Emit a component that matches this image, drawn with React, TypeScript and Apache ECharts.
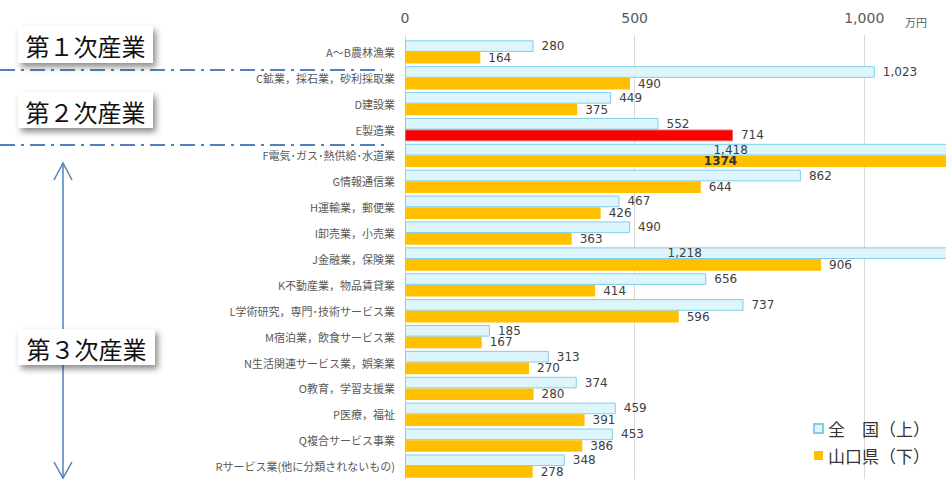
import React, { useEffect, useRef } from 'react';
import * as echarts from 'echarts';

const categories = [
  'A～B農林漁業',
  'C鉱業，採石業，砂利採取業',
  'D建設業',
  'E製造業',
  'F電気･ガス･熱供給･水道業',
  'G情報通信業',
  'H運輸業，郵便業',
  'I卸売業，小売業',
  'J金融業，保険業',
  'K不動産業，物品賃貸業',
  'L学術研究，専門･技術サービス業',
  'M宿泊業，飲食サービス業',
  'N生活関連サービス業，娯楽業',
  'O教育，学習支援業',
  'P医療，福祉',
  'Q複合サービス事業',
  'Rサービス業(他に分類されないもの)',
];
const nationalValues = [280, 1023, 449, 552, 1418, 862, 467, 490, 1218, 656, 737, 185, 313, 374, 459, 453, 348];
const yamaguchiValues = [164, 490, 375, 714, 1374, 644, 426, 363, 906, 414, 596, 167, 270, 280, 391, 386, 278];
const xTicks = [0, 500, 1000];
const seriesNames = ['全　国（上）', '山口県（下）'];
const sectionLabels = ['第１次産業', '第２次産業', '第３次産業'];
const unitLabel = '万円';
const AXIS_MAX = 1178;
const HIGHLIGHT_CATEGORY = 'E製造業';
const PLAIN_LABEL_CATEGORY = 'F電気･ガス･熱供給･水道業';

const fmt = (v: number) => v.toLocaleString('en-US');
const BLUE = '#4F81BD';

function box(text: string, x: number, y: number, w: number, h: number) {
  return {
    type: 'group',
    x,
    y,
    z: 100,
    children: [
      {
        type: 'rect',
        shape: { x: 0, y: 0, width: w, height: h },
        style: {
          fill: '#ffffff',
          shadowBlur: 6,
          shadowOffsetX: 3,
          shadowOffsetY: 4,
          shadowColor: 'rgba(0,0,0,0.45)',
        },
      },
      {
        type: 'text',
        x: w / 2,
        y: h / 2 + 1,
        style: {
          text,
          fill: '#111111',
          fontSize: 24,
          fontFamily: '"Noto Sans CJK JP", sans-serif',
          align: 'center',
          verticalAlign: 'middle',
        },
      },
    ],
  };
}

export default function App() {
  const ref = useRef<HTMLDivElement>(null);
  useEffect(() => {
    if (!ref.current) return;
    const chart = echarts.init(ref.current, undefined, { renderer: 'svg' });
    const labelBase = {
      show: true,
      fontSize: 12,
      fontFamily: '"DejaVu Sans", sans-serif',
      color: '#404040',
      distance: 8,
      formatter: (p: any) => fmt(p.value),
    };
    const option = {
      animation: false,
      backgroundColor: '#ffffff',
      grid: { left: 405, right: 0, top: 39, height: 440, containLabel: false },
      legend: {
        orient: 'vertical',
        left: 808,
        top: 415,
        itemWidth: 9,
        itemHeight: 9,
        itemGap: 10,
        textStyle: { fontSize: 17, color: '#333333', fontFamily: '"Noto Sans CJK JP", sans-serif' },
        data: [
          { name: seriesNames[0], icon: 'rect' },
          { name: seriesNames[1], icon: 'rect' },
        ],
      },
      xAxis: {
        type: 'value',
        position: 'top',
        min: 0,
        max: AXIS_MAX,
        interval: 500,
        axisLine: { show: false },
        axisTick: { show: true, length: 4, lineStyle: { color: '#D9D9D9' } },
        splitLine: { show: true, lineStyle: { color: '#D9D9D9', width: 1 } },
        axisLabel: {
          showMaxLabel: false,
          margin: 14,
          fontSize: 14,
          color: '#595959',
          fontFamily: '"DejaVu Sans", sans-serif',
          formatter: (v: number) => (xTicks.includes(v) ? fmt(v) : ''),
        },
      },
      yAxis: {
        type: 'category',
        inverse: true,
        data: categories,
        axisLine: { show: true, lineStyle: { color: '#D0D0D0' } },
        axisTick: { show: false },
        axisLabel: {
          margin: 10,
          fontSize: 11,
          color: '#595959',
          fontFamily: '"Noto Sans CJK JP", sans-serif',
        },
      },
      series: [
        {
          name: seriesNames[0],
          type: 'bar',
          clip: false,
          barGap: '0%',
          barCategoryGap: '10%',
          itemStyle: { color: '#DFF5FC', borderColor: '#7FCFEA', borderWidth: 1 },
          label: { ...labelBase, position: 'right' },
          data: nationalValues.map((v) => ({
            value: v,
            label: { position: v > AXIS_MAX ? 'inside' : 'right' },
          })),
        },
        {
          name: seriesNames[1],
          type: 'bar',
          clip: false,
          barGap: '0%',
          barCategoryGap: '10%',
          itemStyle: { color: '#FFC000' },
          label: { ...labelBase, position: 'right' },
          data: yamaguchiValues.map((v, i) => {
            const item: any = {
              value: v,
              label: { position: v > AXIS_MAX ? 'inside' : 'right' },
            };
            if (categories[i] === HIGHLIGHT_CATEGORY) {
              item.itemStyle = { color: '#FF0000', borderColor: '#E06060', borderWidth: 1 };
            }
            if (categories[i] === PLAIN_LABEL_CATEGORY) {
              item.label = { ...item.label, formatter: String(v), fontWeight: 'bold', color: '#333333' };
            }
            return item;
          }),
        },
      ],
      graphic: [
        {
          type: 'text',
          x: 905,
          y: 16,
          style: { text: unitLabel, fontSize: 11, fill: '#595959', fontFamily: '"Noto Sans CJK JP", sans-serif' },
        },
        {
          type: 'line',
          shape: { x1: 0, y1: 70, x2: 382, y2: 70 },
          style: { stroke: BLUE, lineWidth: 2, lineDash: [15, 6, 3, 6] },
        },
        {
          type: 'line',
          shape: { x1: 0, y1: 145, x2: 386, y2: 145 },
          style: { stroke: BLUE, lineWidth: 2, lineDash: [15, 6, 3, 6] },
        },
        {
          type: 'line',
          shape: { x1: 63, y1: 163, x2: 63, y2: 478 },
          style: { stroke: BLUE, lineWidth: 1.5 },
        },
        {
          type: 'polyline',
          shape: { points: [[54, 180], [63, 163], [72, 180]] },
          style: { stroke: BLUE, lineWidth: 1.5, fill: 'none' },
        },
        {
          type: 'polyline',
          shape: { points: [[54, 462], [63, 478], [72, 462]] },
          style: { stroke: BLUE, lineWidth: 1.5, fill: 'none' },
        },
        box(sectionLabels[0], 18, 26, 135, 37),
        box(sectionLabels[1], 18, 92, 135, 36),
        box(sectionLabels[2], 18, 329, 137, 36),
      ],
    };
    chart.setOption(option as any);
    return () => chart.dispose();
  }, []);
  return (
    <div
      ref={ref}
      style={{ position: 'fixed', left: 0, top: 0, width: 946, height: 479, overflow: 'hidden' }}
    />
  );
}
